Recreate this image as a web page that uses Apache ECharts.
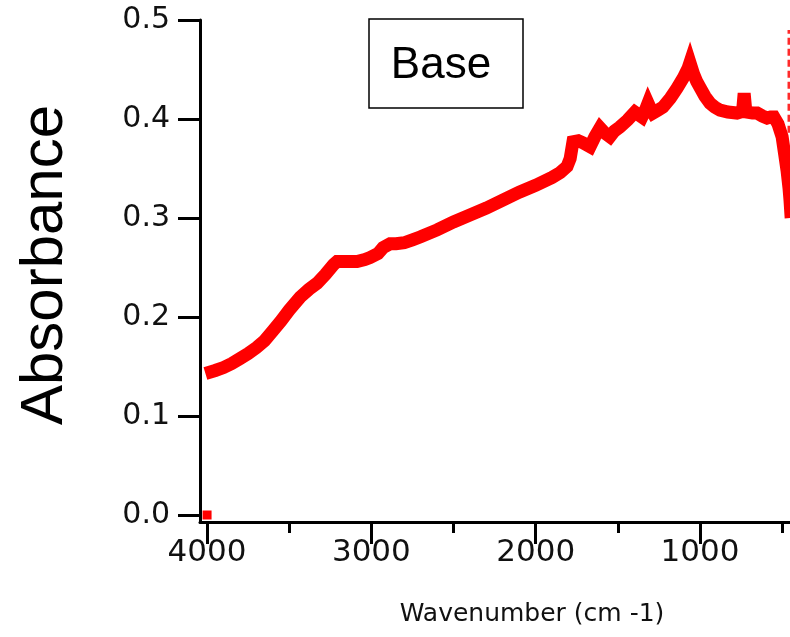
<!DOCTYPE html>
<html>
<head>
<meta charset="utf-8">
<script src="https://cdn.jsdelivr.net/npm/echarts@6/dist/echarts.min.js"></script>
<style>html,body{margin:0;padding:0;background:#fff;}#c{width:790px;height:637px;}</style>
</head>
<body>
<div id="c"></div>
<script>
// Wavenumbers (cm-1) and absorbance values
const wavenumbers = [4010,3950,3900,3850,3800,3750,3700,3650,3600,3550,3500,3434,3380,3331,3280,3230,3209,3150,3087,3040,3008,2960,2929,2886,2850,2800,2750,2700,2600,2500,2400,2300,2200,2100,2000,1900,1850,1809,1790,1773,1740,1712,1690,1669,1640,1608,1580,1548,1520,1487,1440,1396,1370,1353,1330,1316,1300,1286,1255,1225,1180,1140,1100,1073,1061,1040,1020,1000,970,939,910,878,830,775,755,740,731,722,713,680,652,620,591,570,550,525,500,485,470,458,452,445];
const absorbance = [0.143,0.146,0.149,0.153,0.158,0.163,0.169,0.176,0.186,0.196,0.207,0.220,0.228,0.234,0.243,0.253,0.256,0.256,0.256,0.258,0.260,0.264,0.270,0.274,0.274,0.275,0.278,0.281,0.288,0.296,0.303,0.310,0.318,0.326,0.333,0.341,0.346,0.352,0.360,0.377,0.378,0.376,0.374,0.372,0.382,0.391,0.386,0.382,0.388,0.392,0.399,0.407,0.404,0.402,0.410,0.416,0.410,0.406,0.409,0.412,0.421,0.431,0.442,0.451,0.457,0.446,0.438,0.432,0.423,0.416,0.412,0.409,0.407,0.406,0.407,0.409,0.426,0.410,0.407,0.406,0.406,0.403,0.401,0.402,0.402,0.395,0.382,0.365,0.348,0.330,0.318,0.300];
// Single baseline marker point
const markerPoint = [[4000, 0.0]];
// Dashed vertical marker at right edge
const dashedWave = [458, 458];
const dashedAbs = [0.386, 0.49];
// Tick values / labels
const xMajorTicks = [4000, 3000, 2000, 1000];
const xMinorTicks = [3500, 2500, 1500, 500];
const yTicks = [0.0, 0.1, 0.2, 0.3, 0.4, 0.5];
const xTitle = 'Wavenumber (cm -1)';
const yTitle = 'Absorbance';
const boxLabel = 'Base';

const chart = echarts.init(document.getElementById('c'), null, {renderer: 'canvas'});
const lineData = wavenumbers.map((w, i) => [w, absorbance[i]]);
const dashedData = dashedWave.map((w, i) => [w, dashedAbs[i]]);

const option = {
  animation: false,
  backgroundColor: '#fff',
  grid: {left: 200, top: 20, right: 0, bottom: 115, containLabel: false},
  xAxis: [
    {
      type: 'value', min: 452, max: 4043, inverse: true, position: 'bottom',
      axisLine: {show: true, onZero: false, lineStyle: {color: '#000', width: 3}},
      axisTick: {show: true, customValues: xMajorTicks, length: 22, lineStyle: {color: '#000', width: 3}},
      axisLabel: {show: true, customValues: xMajorTicks, margin: 15, formatter: v => String(v),
        fontFamily: 'DejaVu Sans', fontSize: 31, color: '#111'},
      splitLine: {show: false}
    },
    {
      type: 'value', min: 452, max: 4043, inverse: true, position: 'bottom',
      axisLine: {show: false, onZero: false},
      axisTick: {show: true, customValues: xMinorTicks, length: 11, lineStyle: {color: '#000', width: 3}},
      axisLabel: {show: false},
      splitLine: {show: false}
    }
  ],
  yAxis: {
    type: 'value', min: -0.00707, max: 0.5,
    axisLine: {show: true, onZero: false, lineStyle: {color: '#000', width: 3}},
    axisTick: {show: true, customValues: yTicks, length: 22, lineStyle: {color: '#000', width: 3}},
    axisLabel: {show: true, customValues: yTicks, margin: 30, formatter: v => v.toFixed(1),
      fontFamily: 'DejaVu Sans', fontSize: 30, color: '#111'},
    splitLine: {show: false}
  },
  series: [
    {
      type: 'line', data: lineData, showSymbol: false, symbol: 'none',
      lineStyle: {color: '#ff0000', width: 13, join: 'miter', cap: 'butt'},
      clip: true, z: 3
    },
    {
      type: 'line', data: dashedData, showSymbol: false, symbol: 'none',
      lineStyle: {color: '#ff2a2a', width: 3, type: [7, 4]}, clip: false, z: 2
    },
    {
      type: 'scatter', data: markerPoint, symbol: 'rect', symbolSize: 9,
      itemStyle: {color: '#ff0000', opacity: 1}, z: 4
    }
  ],
  graphic: [
    {
      type: 'text', x: 532, y: 614,
      style: {text: xTitle, fontFamily: 'DejaVu Sans', fontSize: 25, fill: '#111', textAlign: 'center', textVerticalAlign: 'middle'}
    },
    {
      type: 'text', x: 45, y: 265, rotation: Math.PI / 2,
      style: {text: yTitle, fontFamily: 'Liberation Sans', fontSize: 60, fill: '#000', textAlign: 'center', textVerticalAlign: 'middle'}
    },
    {
      type: 'rect', shape: {x: 369, y: 19, width: 154, height: 89},
      style: {fill: '#fff', stroke: '#000', lineWidth: 1.5}, z: 10
    },
    {
      type: 'text', x: 441, y: 66, z: 11,
      style: {text: boxLabel, fontFamily: 'Liberation Sans', fontSize: 44, fill: '#000', textAlign: 'center', textVerticalAlign: 'middle'}
    }
  ]
};
chart.setOption(option);
</script>
</body>
</html>
